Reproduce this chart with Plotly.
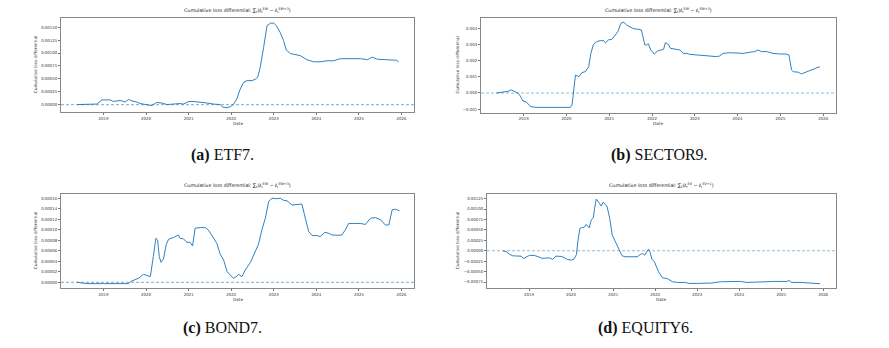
import pandas as pd
import plotly.graph_objects as go

# values (decimal year, cumulative loss differential)
etf7_t = [2018.38, 2018.80, 2018.84, 2018.96, 2019.16, 2019.23, 2019.39, 2019.51, 2019.59, 2019.67,
          2019.78, 2019.86, 2020.02, 2020.13, 2020.25, 2020.37, 2020.49, 2020.64, 2020.80, 2020.88,
          2021.0, 2021.11, 2021.27, 2021.43, 2021.58, 2021.74, 2021.8, 2021.9, 2021.98, 2022.05,
          2022.13, 2022.21, 2022.29, 2022.37, 2022.49, 2022.56, 2022.62, 2022.68, 2022.76, 2022.84,
          2022.92, 2023.0, 2023.06, 2023.15, 2023.23, 2023.29, 2023.39, 2023.5, 2023.62, 2023.78,
          2023.94, 2024.09, 2024.25, 2024.41, 2024.56, 2024.72, 2024.88, 2025.04, 2025.2, 2025.31,
          2025.43, 2025.58, 2025.74, 2025.88, 2025.93]
etf7_v = [0.0, 0.0, 0.00001, 0.00009, 0.00009, 0.00006, 0.00008, 0.00005, 0.0001, 0.00007,
          0.00005, 0.00002, 0.0, -0.00002, 0.00004, 0.00003, 0.0, 0.00001, 0.00002, 0.00001,
          0.00006, 0.00006, 0.00005, 0.00003, 0.00001, 0.0, -0.00005, -0.00006, -0.00004, 0.0,
          0.00011, 0.0003, 0.00043, 0.000465, 0.000465, 0.00049, 0.00053, 0.00072, 0.00111, 0.00153,
          0.00158, 0.00158, 0.00153, 0.0014, 0.00124, 0.00106, 0.00099, 0.00097, 0.00095, 0.00087,
          0.00083, 0.00083, 0.00085, 0.00085, 0.00089, 0.00089, 0.00089, 0.00089, 0.00087, 0.00092,
          0.00088, 0.00087, 0.00087, 0.00086, 0.00083]

sector9_t = [2018.36, 2018.51, 2018.63, 2018.71, 2018.78, 2018.86, 2018.92, 2018.98, 2019.05, 2019.12,
             2019.17, 2019.29, 2019.52, 2019.75, 2019.98, 2020.09, 2020.13, 2020.17, 2020.21, 2020.29,
             2020.36, 2020.44, 2020.52, 2020.57, 2020.63, 2020.71, 2020.79, 2020.87, 2020.91, 2020.98,
             2021.06, 2021.14, 2021.2, 2021.27, 2021.33, 2021.41, 2021.48, 2021.56, 2021.68, 2021.75,
             2021.83, 2021.87, 2021.91, 2021.97, 2022.05, 2022.14, 2022.22, 2022.27, 2022.31, 2022.38,
             2022.43, 2022.57, 2022.65, 2022.73, 2022.81, 2022.88, 2023.04, 2023.19, 2023.35, 2023.51,
             2023.58, 2023.66, 2023.82, 2023.97, 2024.13, 2024.29, 2024.4, 2024.48, 2024.56, 2024.68,
             2024.83, 2024.99, 2025.14, 2025.2, 2025.26, 2025.3, 2025.42, 2025.49, 2025.61, 2025.77,
             2025.92]
sector9_v = [0.0, 0.00006, 0.0001, 0.00019, 0.0001, 0.0, -0.00019, -0.0005, -0.00054, -0.0007,
             -0.00085, -0.00089, -0.00089, -0.00091, -0.00091, -0.00089, -0.00074, 0.0004, 0.00111, 0.00101,
             0.00126, 0.00132, 0.00163, 0.00245, 0.003, 0.00318, 0.00324, 0.00324, 0.0031, 0.00328,
             0.00332, 0.00359, 0.0038, 0.00431, 0.00439, 0.00419, 0.0041, 0.00398, 0.00394, 0.0039,
             0.00297, 0.00297, 0.00305, 0.00266, 0.00241, 0.00262, 0.00266, 0.0027, 0.00311, 0.00301,
             0.00276, 0.00272, 0.00266, 0.00245, 0.00245, 0.00239, 0.00235, 0.00235, 0.00231, 0.00225,
             0.00229, 0.00245, 0.00249, 0.00245, 0.00245, 0.00252, 0.00256, 0.00266, 0.00256, 0.00256,
             0.00245, 0.00241, 0.00241, 0.00235, 0.00142, 0.00132, 0.00128, 0.00118, 0.0013, 0.00146,
             0.00163]

bond7_t = [2018.37, 2018.49, 2018.61, 2019.0, 2019.39, 2019.59, 2019.63, 2019.74, 2019.82, 2019.94,
           2020.06, 2020.1, 2020.17, 2020.23, 2020.27, 2020.31, 2020.35, 2020.41, 2020.47, 2020.53,
           2020.64, 2020.76, 2020.8, 2020.88, 2020.96, 2021.03, 2021.09, 2021.15, 2021.27, 2021.39,
           2021.46, 2021.54, 2021.62, 2021.66, 2021.74, 2021.82, 2021.9, 2021.98, 2022.05, 2022.13,
           2022.17, 2022.25, 2022.33, 2022.45, 2022.56, 2022.64, 2022.72, 2022.8, 2022.88, 2022.96,
           2023.07, 2023.15, 2023.23, 2023.31, 2023.43, 2023.58, 2023.66, 2023.74, 2023.82, 2023.9,
           2024.02, 2024.09, 2024.2, 2024.29, 2024.37, 2024.49, 2024.6, 2024.68, 2024.76, 2024.88,
           2025.04, 2025.15, 2025.27, 2025.39, 2025.51, 2025.62, 2025.7, 2025.78, 2025.86, 2025.95]
bond7_v = [0.0, -0.0000013, -0.0000025, -0.0000025, -0.0000025, -0.0000025, 0.0000013, 0.000005, 0.0000076, 0.0000152,
           0.000012, 0.0000108, 0.0000489, 0.0000838, 0.0000806, 0.0000489, 0.000038, 0.0000444, 0.000071, 0.000082,
           0.000085, 0.00009, 0.0000838, 0.0000825, 0.0000762, 0.0000762, 0.0000692, 0.000103, 0.000104, 0.000104,
           0.0000997, 0.00009, 0.0000787, 0.0000743, 0.0000533, 0.0000425, 0.0000203, 0.0000127, 0.0000076, 0.0000114,
           0.0000152, 0.0000108, 0.0000235, 0.000038, 0.0000571, 0.0000724, 0.0000997, 0.000122, 0.000154, 0.00016,
           0.000159, 0.00016, 0.000156, 0.000155, 0.000147, 0.000148, 0.000149, 0.000122, 0.0000965, 0.0000889,
           0.0000889, 0.000087, 0.0000952, 0.0000933, 0.00009, 0.0000895, 0.00009, 0.0000997, 0.000112, 0.000112,
           0.000112, 0.00011, 0.000122, 0.000123, 0.000119, 0.000109, 0.000109, 0.000138, 0.000139, 0.000136]

equity6_t = [2018.38, 2018.46, 2018.54, 2018.61, 2018.73, 2018.81, 2018.87, 2018.93, 2019.01, 2019.13,
             2019.24, 2019.32, 2019.4, 2019.48, 2019.56, 2019.64, 2019.76, 2019.83, 2019.91, 2020.0,
             2020.07, 2020.13, 2020.16, 2020.21, 2020.27, 2020.31, 2020.36, 2020.43, 2020.48, 2020.53,
             2020.56, 2020.6, 2020.66, 2020.72, 2020.76, 2020.82, 2020.86, 2020.92, 2020.98, 2021.06,
             2021.13, 2021.21, 2021.29, 2021.45, 2021.57, 2021.65, 2021.7, 2021.75, 2021.8, 2021.84,
             2021.88, 2021.92, 2021.98, 2022.08, 2022.17, 2022.21, 2022.29, 2022.41, 2022.53, 2022.72,
             2022.8, 2023.0, 2023.32, 2023.55, 2023.71, 2024.03, 2024.18, 2024.5, 2024.66, 2024.82,
             2025.13, 2025.19, 2025.23, 2025.45, 2025.6, 2025.76, 2025.92]
equity6_v = [0.0, -0.000024, -0.000088, -0.00012, -0.000128, -0.000128, -0.000184, -0.000144, -0.000112, -0.000112,
             -0.000144, -0.000184, -0.000176, -0.000168, -0.000208, -0.000128, -0.000136, -0.00016, -0.000208, -0.000224,
             -0.0002, -0.000088, 0.000216, 0.000535, 0.00056, 0.00056, 0.00063, 0.00055, 0.000735, 0.00079,
             0.00101, 0.00124, 0.00116, 0.00107, 0.00116, 0.00111, 0.00105, 0.000775, 0.000375, 0.000192,
             0.000016, -0.00012, -0.000144, -0.000152, -0.000144, -0.000088, -0.000064, -0.000104, -0.000008, 0.00004,
             -0.00004, -0.0002, -0.000264, -0.000503, -0.000647, -0.000655, -0.00067, -0.000743, -0.000759, -0.000759,
             -0.000783, -0.000783, -0.000775, -0.000743, -0.000735, -0.000735, -0.000759, -0.000759, -0.000743, -0.000735,
             -0.000735, -0.000711, -0.000759, -0.000759, -0.000767, -0.000783, -0.00079]

year_ticks = ["2019", "2020", "2021", "2022", "2023", "2024", "2025", "2026"]
captions = ["<b>(a)</b> ETF7.", "<b>(b)</b> SECTOR9.", "<b>(c)</b> BOND7.", "<b>(d)</b> EQUITY6."]
titles = ["Cumulative loss differential: \u2211<sub>t</sub>(\u2113<sub>t</sub><sup>EW</sup> \u2212 \u2113<sub>t</sub><sup>EW+3</sup>)",
          "Cumulative loss differential: \u2211<sub>t</sub>(\u2113<sub>t</sub><sup>EW</sup> \u2212 \u2113<sub>t</sub><sup>EW+3</sup>)",
          "Cumulative loss differential: \u2211<sub>t</sub>(\u2113<sub>t</sub><sup>EW</sup> \u2212 \u2113<sub>t</sub><sup>EW+3</sup>)",
          "Cumulative loss differential: \u2211<sub>t</sub>(\u2113<sub>t</sub><sup>EV</sup> \u2212 \u2113<sub>t</sub><sup>EV+1</sup>)"]


def to_dates(years):
    return [pd.Timestamp(int(y), 1, 1) + pd.Timedelta(days=(y - int(y)) * 365.25) for y in years]


W, H = 889, 348
# panel boxes in pixels: left, right, top, bottom
boxes = [(61, 414, 18, 112.3), (481, 835.7, 18.3, 112.7), (61, 414, 194, 288.3), (487, 835.7, 194, 288.3)]
yranges = [[-0.00015, 0.00168], [-0.00122, 0.00462], [-0.0000114, 0.000168], [-0.0009, 0.00136]]
ydticks = [0.00025, 0.001, 0.00002, 0.00025]
yformats = [".5f", ".3f", ".5f", ".5f"]
ylabel_x = [35, 457, 35, 457]
caption_pos = [(223, 155), (659, 155), (223, 328), (645, 328)]

series = [(etf7_t, etf7_v), (sector9_t, sector9_v), (bond7_t, bond7_v), (equity6_t, equity6_v)]

tick_font = dict(family="DejaVu Sans", size=3.9, color="#333")
fig = go.Figure()
annotations = []
shapes = []
for i, ((t, v), (l, r, top, bot)) in enumerate(zip(series, boxes)):
    n = "" if i == 0 else str(i + 1)
    fig.add_trace(go.Scatter(x=to_dates(t), y=v, mode="lines", xaxis="x" + n, yaxis="y" + n,
                             line=dict(color="#2f80c0", width=1), showlegend=False))
    fig.update_layout(**{
        "xaxis" + n: dict(domain=[l / W, r / W], anchor="y" + n, type="date",
                          range=["2018-01-01", "2026-04-18"],
                          tickvals=[y + "-01-01" for y in year_ticks], ticktext=year_ticks,
                          showgrid=False, zeroline=False, showline=True, mirror=True,
                          linecolor="#888", linewidth=1, ticks="outside", ticklen=2, tickcolor="#777",
                          tickfont=tick_font),
        "yaxis" + n: dict(domain=[1 - bot / H, 1 - top / H], anchor="x" + n, range=yranges[i],
                          tick0=0, dtick=ydticks[i], tickformat=yformats[i], showgrid=False,
                          zeroline=False, showline=True, mirror=True, linecolor="#888", linewidth=1,
                          ticks="outside", ticklen=2, tickcolor="#777", tickfont=tick_font),
    })
    # dashed zero line
    shapes.append(dict(type="line", xref="x" + n + " domain", yref="y" + n, x0=0, x1=1, y0=0, y1=0,
                       line=dict(color="rgba(31,119,180,0.5)", width=1.2, dash="3px,2px")))
    cx = (l + r) / 2 / W
    annotations.append(dict(text=titles[i], x=cx, y=1 - (top - 8) / H, xref="paper", yref="paper",
                            xanchor="center", yanchor="middle", showarrow=False,
                            font=dict(family="DejaVu Sans", size=4.8, color="#222")))
    annotations.append(dict(text="Date", x=cx, y=1 - (bot + 11) / H, xref="paper", yref="paper",
                            xanchor="center", yanchor="middle", showarrow=False,
                            font=dict(family="DejaVu Sans", size=4.2, color="#333")))
    annotations.append(dict(text="Cumulative loss differential", x=ylabel_x[i] / W,
                            y=1 - (top + bot) / 2 / H, xref="paper", yref="paper", textangle=-90,
                            xanchor="center", yanchor="middle", showarrow=False,
                            font=dict(family="DejaVu Sans", size=4.2, color="#333")))
    annotations.append(dict(text=captions[i], x=caption_pos[i][0] / W, y=1 - caption_pos[i][1] / H,
                            xref="paper", yref="paper", xanchor="center", yanchor="middle",
                            showarrow=False, font=dict(family="Liberation Serif", size=16, color="#111")))

fig.update_layout(width=W, height=H, margin=dict(l=0, r=0, t=0, b=0),
                  paper_bgcolor="white", plot_bgcolor="white",
                  annotations=annotations, shapes=shapes, showlegend=False)
# drop the default body margin so the figure sits at the page origin
fig.write_html("out.html", config={"displayModeBar": False},
               post_script="document.body.style.margin='0';document.body.style.overflow='hidden';")
